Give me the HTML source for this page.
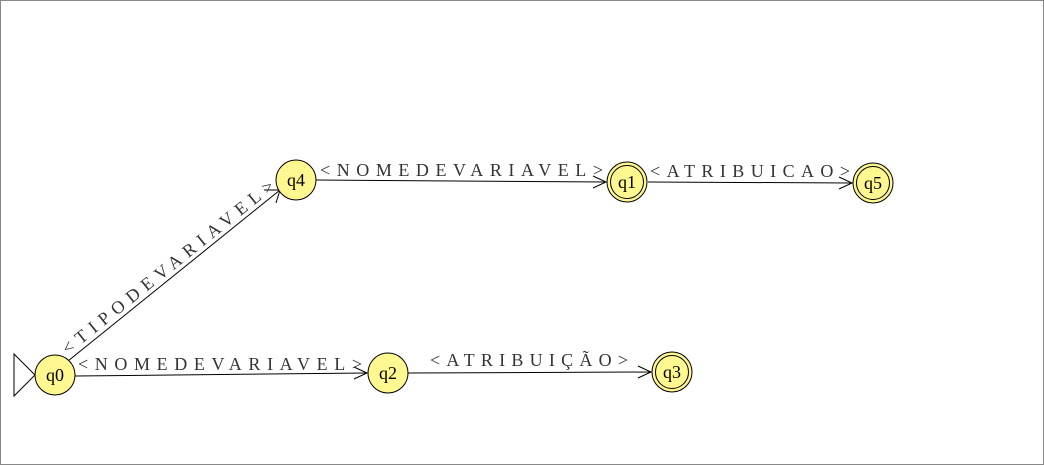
<!DOCTYPE html>
<html><head><meta charset="utf-8"><style>
html,body{margin:0;padding:0;background:#fff;}
svg{display:block;}
text{font-family:"Liberation Serif",serif;fill:#333;font-size:18px;}
.st{font-size:18px;fill:#000;}
</style></head><body>
<svg width="1044" height="465">
<rect x="0.5" y="0.5" width="1043" height="464" fill="#fff" stroke="#888"/>
<g stroke="#000" stroke-width="1" fill="none">
<polygon points="14,354 35,375 14,396"/>
<g><line x1="68" y1="361" x2="280" y2="190"/><polyline points="264,190 280,190 276,203"/></g>
<g><line x1="75" y1="376" x2="367" y2="373"/><polyline points="354,367 367,373 354,379"/></g>
<g><line x1="316" y1="180" x2="606" y2="182"/><polyline points="593,176 606,182 593,188"/></g>
<g><line x1="648" y1="182" x2="852" y2="183"/><polyline points="839,177 852,183 839,189"/></g>
<g><line x1="408" y1="373" x2="651" y2="372"/><polyline points="638,366 651,372 638,378"/></g>
</g>
<g fill="#fff78f" stroke="#000">
<circle cx="55" cy="375" r="20"/>
<circle cx="296" cy="180" r="20"/>
<circle cx="388" cy="373" r="20"/>
<g><circle cx="627" cy="182" r="20"/><circle cx="627" cy="182" r="16.5" fill="none"/></g>
<g><circle cx="873" cy="183" r="20"/><circle cx="873" cy="183" r="16.5" fill="none"/></g>
<g><circle cx="672" cy="372" r="20"/><circle cx="672" cy="372" r="16.5" fill="none"/></g>
</g>
<text class="st" x="55" y="381" text-anchor="middle">q0</text>
<text class="st" x="296" y="186" text-anchor="middle">q4</text>
<text class="st" x="388" y="379" text-anchor="middle">q2</text>
<text class="st" x="627" y="188" text-anchor="middle">q1</text>
<text class="st" x="873" y="189" text-anchor="middle">q5</text>
<text class="st" x="672" y="378" text-anchor="middle">q3</text>
<text x="0" y="0" textLength="266" lengthAdjust="spacing" transform="translate(68,355) rotate(-38.8)">&lt;TIPODEVARIAVEL&gt;</text>
<text x="78" y="370" textLength="284" lengthAdjust="spacing">&lt;NOMEDEVARIAVEL&gt;</text>
<text x="320" y="176" textLength="283" lengthAdjust="spacing">&lt;NOMEDEVARIAVEL&gt;</text>
<text x="650" y="177" textLength="200" lengthAdjust="spacing">&lt;ATRIBUICAO&gt;</text>
<text x="430" y="366" textLength="198" lengthAdjust="spacing">&lt;ATRIBUIÇÃO&gt;</text>
</svg>
</body></html>
